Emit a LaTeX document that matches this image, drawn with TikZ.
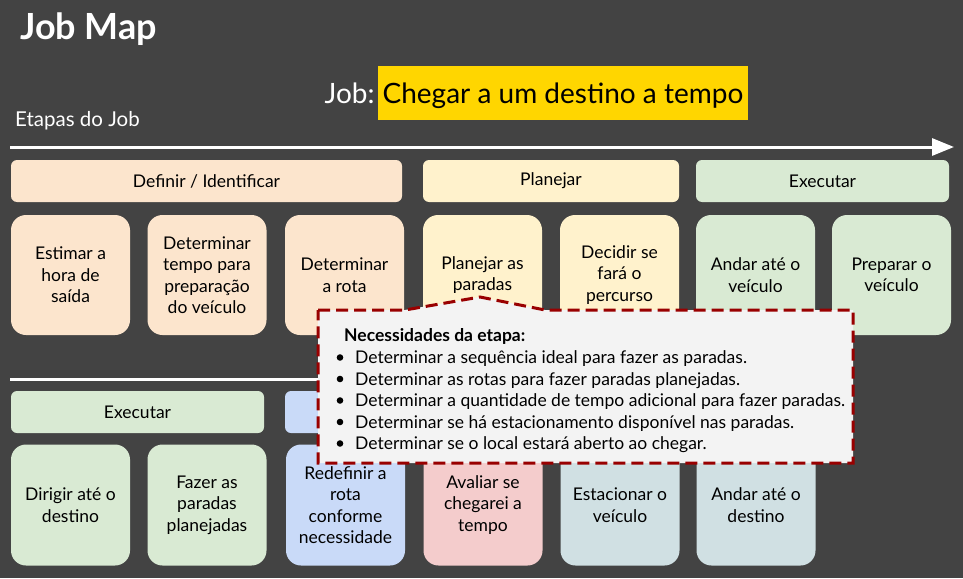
\documentclass[tikz,border=0pt]{standalone}
\usepackage{fontspec}
\setmainfont{Lato}
\usepackage{xcolor}
\usetikzlibrary{arrows.meta}
\definecolor{bgray}{HTML}{434343}
\definecolor{peach}{HTML}{FCE5CD}
\definecolor{cream}{HTML}{FFF2CC}
\definecolor{mint}{HTML}{D9EAD3}
\definecolor{sky}{HTML}{C9DAF8}
\definecolor{rose}{HTML}{F4CCCC}
\definecolor{steel}{HTML}{D0E0E3}
\definecolor{gold}{HTML}{FFD600}
\definecolor{notebg}{HTML}{F3F3F3}
\definecolor{darkred}{HTML}{990000}
\begin{document}
\begin{tikzpicture}[x=1pt,y=-1pt,
	card/.style={rounded corners=15pt,minimum width=119pt,minimum height=120pt,inner sep=0pt,align=center,font=\fontsize{17.5}{21.5}\selectfont},
	stage/.style={rounded corners=6pt,minimum height=42pt,inner sep=0pt,font=\fontsize{17.5}{20}\selectfont},
	needline/.style={anchor=base west,inner sep=0pt,font=\fontsize{17.5}{20}\selectfont}]
	\fill [bgray] (0,0) rectangle (963,578);
	\useasboundingbox (0,0) rectangle (963,578);
	\node [anchor=base west,inner sep=0pt,text=white,font=\fontsize{36}{40}\selectfont\bfseries] (title) at (20,40) {Job Map};
	\node [fill=gold,minimum width=370pt,minimum height=54pt,inner sep=0pt,text height=20pt,text depth=0pt,font=\fontsize{28}{30}\selectfont] (job) at (563,93) {Chegar a um destino a tempo};
	\node [anchor=base east,inner sep=0pt,text=white,font=\fontsize{28}{30}\selectfont] (joblabel) at ([xshift=-3pt]job.base west) {Job:};
	\node [anchor=base west,inner sep=0pt,text=white,font=\fontsize{20.5}{22}\selectfont] (etapas) at (15,126) {Etapas do Job};
	\coordinate (a0) at (10,147);
	\coordinate (a1) at (954,147);
	\draw [white,line width=3pt,-{Triangle[length=22pt,width=17pt]}] (a0) -- (a1);
	\coordinate (b0) at (10,379);
	\coordinate (b1) at (600,379);
	\draw [white,line width=3pt] (b0) -- (b1);
	\node [stage,fill=peach,minimum width=391pt] (definir) at (206.5,181) {Definir / Identificar};
	\node [stage,fill=cream,minimum width=256pt] (planejar) at (551,181) {Planejar};
	\node [stage,fill=mint,minimum width=253pt] (executar) at (822.5,181) {Executar};
	\node [stage,fill=mint,minimum width=253pt] (executar2) at (137.5,412) {Executar};
	\node [stage,fill=sky,minimum width=119pt] (monitorar) at (344.5,412) {};
	\foreach \x/\c/\t [count=\i] in {70.5/peach/{Estimar a\\hora de\\saída},
		207/peach/{Determinar\\tempo para\\preparação\\do veículo},
		344.5/peach/{Determinar\\a rota},
		482.5/cream/{Planejar as\\paradas},
		619.5/cream/{Decidir se\\fará o\\percurso},
		755.5/mint/{Andar até o\\veículo},
		891.5/mint/{Preparar o\\veículo}}
		\node [card,fill=\c] (top\i) at (\x,275) {\t};
	\foreach \x/\c/\t [count=\i] in {70.5/mint/{Dirigir até o\\destino},
		207/mint/{Fazer as\\paradas\\planejadas},
		345.5/sky/{Redefinir a\\rota\\conforme\\necessidade},
		483/rose/{Avaliar se\\chegarei a\\tempo},
		620/steel/{Estacionar o\\veículo},
		756/steel/{Andar até o\\destino}}
		\node [card,fill=\c,minimum height=121pt] (bot\i) at (\x,505) {\t};
	\filldraw [fill=notebg,draw=darkred,line width=3pt,dash pattern=on 12pt off 6pt]
		(318,310) -- (405,310) -- (480,297) -- (545,310) -- (853,310) -- (853,463) -- (318,463) -- cycle;
	\node [needline,font=\fontsize{17.5}{20}\selectfont\bfseries] (needs) at (344,341) {Necessidades da etapa:};
	\foreach \t [count=\i] in {Determinar a sequência ideal para fazer as paradas.,
		Determinar as rotas para fazer paradas planejadas.,
		Determinar a quantidade de tempo adicional para fazer paradas.,
		Determinar se há estacionamento disponível nas paradas.,
		Determinar se o local estará aberto ao chegar.}
		{
		\fill (340,336+21.5*\i) circle (3.3pt);
		\node [needline] (need\i) at (355,342+21.5*\i) {\t};
		}
\end{tikzpicture}
\end{document}
